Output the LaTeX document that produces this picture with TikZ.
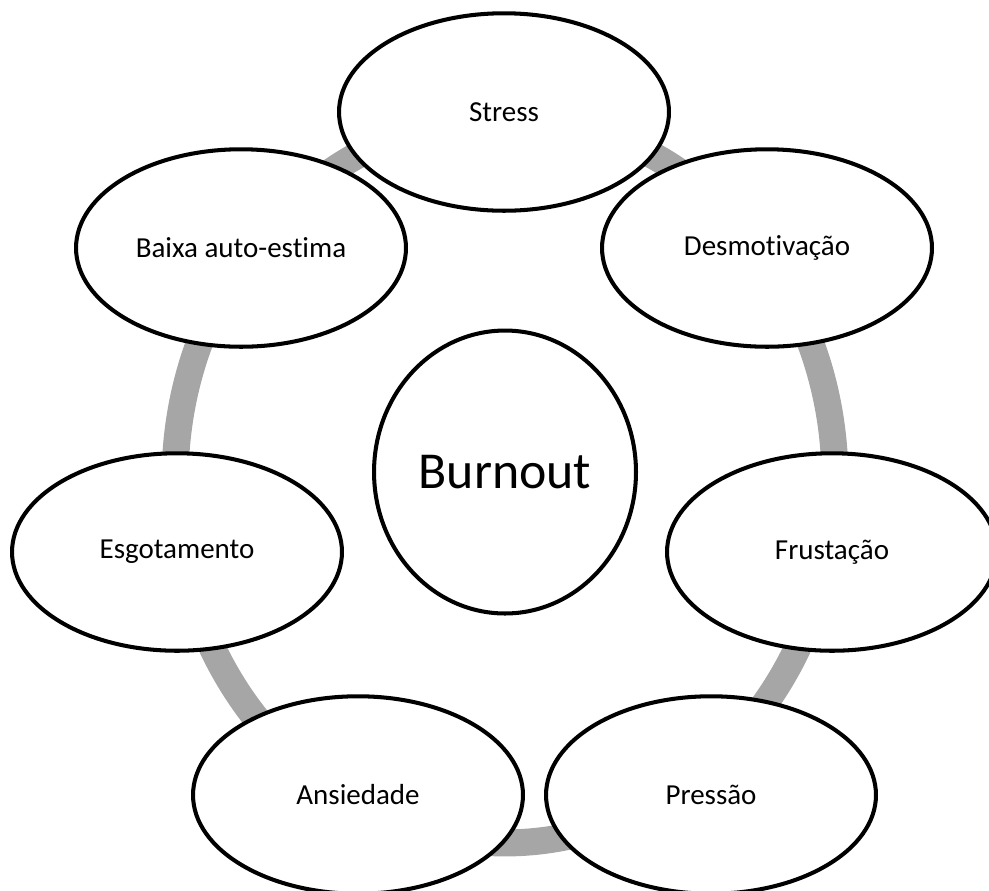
\documentclass[tikz,border=0pt]{standalone}
\usepackage{fontspec}
\setmainfont[Ligatures={NoCommon}]{Carlito}
\usetikzlibrary{shapes.geometric}
\definecolor{ringgray}{RGB}{166,166,166}

\begin{document}
\begin{tikzpicture}[x=0.02cm,y=-0.02cm,
  bubble/.style={ellipse,draw,line width=2.3pt,fill=white,inner sep=0pt,
    minimum width=6.6cm,minimum height=3.95cm,font=\fontsize{16.5}{20}\selectfont},
  hub/.style={bubble,minimum width=5.24cm,minimum height=5.66cm,font=\fontsize{29.5}{34}\selectfont}]
\useasboundingbox (0,0) rectangle (989,890);

% ring behind the bubbles
\draw[line width=0.54cm,ringgray] (505,480) ellipse [x radius=6.6cm,y radius=7.26cm];

\node[bubble] (stress) at (504,112) {Stress};
\node[bubble] (desmot) at (767,248) {Desmotivação};
\node[bubble] (frust) at (832,552) {Frustação};
\node[bubble] (pressao) at (711,795) {Pressão};
\node[bubble] (ansied) at (358,795) {Ansiedade};
\node[bubble] (esgot) at (177,552) {Esgotamento};
\node[bubble] (baixa) at (241,248) {Baixa auto-estima};

\node[hub] (burnout) at (505,472) {Burnout};
\end{tikzpicture}
\end{document}
